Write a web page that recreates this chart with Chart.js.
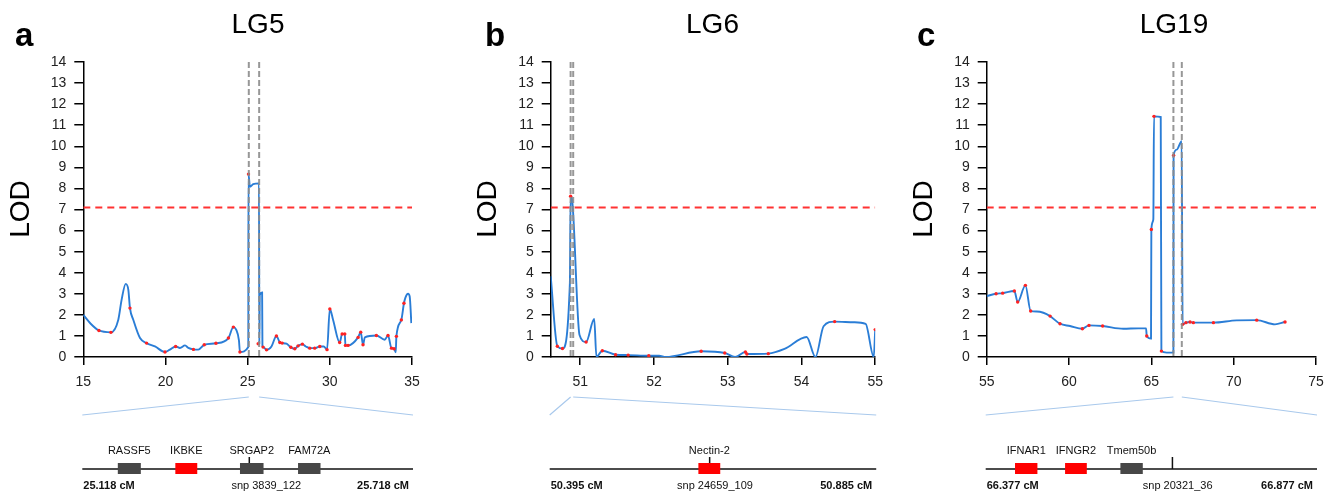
<!DOCTYPE html>
<html>
<head>
<meta charset="utf-8">
<script src="https://cdn.jsdelivr.net/npm/chart.js@4.4.0/dist/chart.umd.min.js"></script>
<style>
body { margin: 0; background: #fff; }
#wrap { position: relative; width: 1338px; height: 496px; }
#wrap canvas { position: absolute; top: 0; }
</style>
</head>
<body>
<div id="wrap">
  <canvas id="lg5" width="446" height="496" style="left:0px"></canvas>
  <canvas id="lg6" width="446" height="496" style="left:446px"></canvas>
  <canvas id="lg19" width="446" height="496" style="left:892px"></canvas>
</div>
<script>
// ---- data ----
var threshold = 7.1;
var yTicks = [0, 1, 2, 3, 4, 5, 6, 7, 8, 9, 10, 11, 12, 13, 14];

// LG5
var lg5Ticks = [15, 20, 25, 30, 35];
var lg5Pos = [15.0, 15.45, 15.95, 16.68, 17.13, 17.33, 17.58, 17.74, 17.84, 18.04, 18.45, 18.85, 19.36, 19.97, 20.27, 20.62, 20.88, 21.19, 21.39, 21.7, 22.0, 22.36, 23.07, 23.83, 24.13, 24.3, 24.47, 24.53, 25.04, 25.05, 25.14, 25.34, 25.69, 25.71, 25.74, 25.88, 25.9, 25.94, 26.15, 26.45, 26.75, 26.96, 27.1, 27.36, 27.63, 27.87, 28.07, 28.33, 28.54, 28.78, 29.08, 29.39, 29.63, 29.83, 30.0, 30.2, 30.6, 30.75, 30.91, 30.95, 31.11, 31.72, 31.88, 32.02, 32.13, 32.83, 33.34, 33.54, 33.75, 33.91, 34.01, 34.05, 34.35, 34.51, 34.6, 34.76, 34.86, 34.96];
var lg5Lod = [2.0, 1.58, 1.26, 1.17, 1.77, 2.71, 3.47, 3.19, 2.32, 1.77, 0.9, 0.66, 0.5, 0.24, 0.35, 0.5, 0.43, 0.55, 0.43, 0.36, 0.35, 0.58, 0.65, 0.9, 1.42, 1.3, 0.79, 0.24, 0.47, 8.68, 8.08, 8.2, 8.24, 0.6, 2.95, 3.06, 0.5, 0.47, 0.34, 0.5, 1.0, 0.69, 0.66, 0.63, 0.46, 0.39, 0.53, 0.61, 0.5, 0.42, 0.42, 0.5, 0.5, 0.35, 2.28, 1.76, 0.69, 1.09, 1.09, 0.55, 0.55, 0.93, 1.18, 0.58, 0.93, 1.02, 0.82, 1.02, 0.42, 0.39, 0.22, 0.98, 1.76, 2.55, 2.82, 3.0, 2.87, 1.61];
var lg5MarkPos = [15.95, 16.68, 17.84, 18.85, 19.97, 20.62, 21.7, 22.36, 23.07, 23.83, 24.13, 24.53, 25.05, 25.64, 25.94, 26.15, 26.75, 26.96, 27.1, 27.63, 27.87, 28.07, 28.33, 28.78, 29.08, 29.39, 29.83, 30.0, 30.6, 30.75, 30.91, 30.95, 31.11, 31.72, 31.88, 32.02, 32.83, 33.54, 33.75, 33.91, 34.05, 34.35, 34.51];
var lg5MarkLod = [1.26, 1.17, 2.32, 0.66, 0.24, 0.5, 0.36, 0.58, 0.65, 0.9, 1.42, 0.24, 8.68, 0.63, 0.47, 0.34, 1.0, 0.69, 0.66, 0.46, 0.39, 0.53, 0.61, 0.42, 0.42, 0.5, 0.35, 2.28, 0.69, 1.09, 1.09, 0.55, 0.55, 0.93, 1.18, 0.58, 1.02, 1.02, 0.42, 0.39, 0.98, 1.76, 2.55];
var lg5Qtl = [25.07, 25.7];
var lg5Genes = ["RASSF5", "IKBKE", "SRGAP2", "FAM72A"];
var lg5GeneStart = [25.181, 25.286, 25.404, 25.510];
var lg5GeneEnd = [25.223, 25.326, 25.447, 25.551];
var lg5GeneCandidate = [false, true, false, false];

// LG6
var lg6Ticks = [51, 52, 53, 54, 55];
var lg6Pos = [50.6, 50.69, 50.76, 50.86, 50.87, 50.89, 50.99, 51.08, 51.19, 51.22, 51.3, 51.48, 51.65, 51.93, 52.07, 52.16, 52.64, 52.96, 53.1, 53.24, 53.26, 53.55, 53.77, 54.07, 54.19, 54.3, 54.45, 54.71, 54.87, 54.98, 55.0];
var lg6Lod = [3.83, 0.51, 0.4, 3.5, 7.63, 7.47, 1.06, 0.71, 1.8, 0.0, 0.3, 0.11, 0.09, 0.06, 0.06, 0.0, 0.27, 0.19, 0.0, 0.24, 0.14, 0.16, 0.38, 0.95, 0.0, 1.46, 1.68, 1.65, 1.57, 0.0, 1.3];
var lg6MarkPos = [50.69, 50.76, 50.87, 51.08, 51.3, 51.48, 51.65, 51.93, 52.64, 52.96, 53.24, 53.26, 53.55, 54.45, 55.0];
var lg6MarkLod = [0.51, 0.4, 7.63, 0.71, 0.3, 0.11, 0.09, 0.06, 0.27, 0.19, 0.24, 0.14, 0.16, 1.68, 1.3];
var lg6Qtl = [50.87, 50.905];
var lg6Genes = ["Nectin-2"];
var lg6GeneStart = [50.618];
var lg6GeneEnd = [50.651];
var lg6GeneCandidate = [true];

// LG19
var lg19Ticks = [55, 60, 65, 70, 75];
var lg19Pos = [55.0, 55.57, 55.97, 56.68, 56.88, 57.35, 57.67, 58.04, 58.44, 58.85, 59.45, 60.06, 60.81, 61.21, 62.04, 63.3, 64.21, 64.68, 64.72, 64.98, 65.0, 65.12, 65.16, 65.57, 65.61, 65.93, 66.34, 66.35, 66.54, 66.84, 66.9, 67.1, 67.35, 67.55, 68.77, 70.18, 71.4, 72.51, 73.12];
var lg19Lod = [2.89, 3.0, 3.03, 3.13, 2.61, 3.4, 2.18, 2.16, 2.1, 1.94, 1.58, 1.47, 1.34, 1.5, 1.47, 1.34, 1.36, 1.36, 1.0, 0.87, 6.05, 6.53, 11.42, 11.39, 0.28, 0.21, 0.21, 9.57, 9.84, 10.24, 1.55, 1.63, 1.66, 1.63, 1.63, 1.74, 1.75, 1.55, 1.66];
var lg19MarkPos = [55.57, 55.97, 56.68, 56.88, 57.35, 57.67, 58.85, 59.45, 60.81, 61.21, 62.04, 64.72, 65.0, 65.16, 65.61, 66.35, 66.9, 67.1, 67.35, 67.55, 68.77, 71.4, 73.12];
var lg19MarkLod = [3.0, 3.03, 3.13, 2.61, 3.4, 2.18, 1.94, 1.58, 1.34, 1.5, 1.47, 1.0, 6.05, 11.42, 0.28, 9.57, 1.55, 1.63, 1.66, 1.63, 1.63, 1.75, 1.66];
var lg19Qtl = [66.34, 66.85];
var lg19Genes = ["IFNAR1", "IFNGR2", "Tmem50b"];
var lg19GeneStart = [66.420, 66.496, 66.580];
var lg19GeneEnd = [66.454, 66.529, 66.614];
var lg19GeneCandidate = [true, true, false];

var FONT = '"Liberation Sans", Arial, sans-serif';
var BLUE = '#2a7dd6';

function zip(xs, ys) {
  return xs.map(function (x, i) { return { x: x, y: ys[i] }; });
}

function decor(p) {
  return {
    id: 'decor',
    afterDatasetsDraw: function (chart) {
      var ctx = chart.ctx, ca = chart.chartArea, sx = chart.scales.x;
      ctx.save();
      ctx.strokeStyle = 'rgba(140,140,140,0.9)';
      ctx.lineWidth = 2;
      ctx.setLineDash([6, 3]);
      p.qtl.forEach(function (v) {
        var px = sx.getPixelForValue(v);
        ctx.beginPath();
        ctx.moveTo(px, ca.top);
        ctx.lineTo(px, ca.bottom);
        ctx.stroke();
      });
      ctx.restore();
    },
    afterDraw: function (chart) {
      var ctx = chart.ctx, ca = chart.chartArea, sx = chart.scales.x;
      ctx.save();
      // titles and labels
      ctx.fillStyle = '#000';
      ctx.font = 'bold 33px ' + FONT;
      ctx.textAlign = 'left';
      ctx.textBaseline = 'alphabetic';
      ctx.fillText(p.letter, p.letterX, 46);
      ctx.font = '28px ' + FONT;
      ctx.textAlign = 'center';
      ctx.fillText(p.title, p.titleX, 33);
      ctx.save();
      ctx.translate(p.lodX, 209);
      ctx.rotate(-Math.PI / 2);
      ctx.textBaseline = 'middle';
      ctx.fillText('LOD', 0, 0);
      ctx.restore();

      // zoom lines
      var trackPx = function (v) {
        return ca.left + (v - p.trackMin) / (p.trackMax - p.trackMin) * (ca.right - ca.left);
      };
      ctx.strokeStyle = '#a9c9ec';
      ctx.lineWidth = 1.2;
      ctx.beginPath();
      ctx.moveTo(ca.left - 1, 415);
      ctx.lineTo(sx.getPixelForValue(p.qtl[0]), 397);
      ctx.moveTo(sx.getPixelForValue(p.qtl[1]), 397);
      ctx.lineTo(ca.right + 1, 415);
      ctx.stroke();

      // track
      var yLine = 469;
      ctx.strokeStyle = '#111';
      ctx.lineWidth = 1.5;
      ctx.beginPath();
      ctx.moveTo(ca.left - 1, yLine);
      ctx.lineTo(ca.right + 1, yLine);
      ctx.stroke();
      var snpX = trackPx(p.snp);
      ctx.beginPath();
      ctx.moveTo(snpX, 457);
      ctx.lineTo(snpX, yLine);
      ctx.stroke();
      ctx.font = '11px ' + FONT;
      ctx.textAlign = 'center';
      ctx.textBaseline = 'middle';
      p.genes.forEach(function (name, i) {
        var x0 = trackPx(p.geneStart[i]), x1 = trackPx(p.geneEnd[i]);
        ctx.fillStyle = p.geneCandidate[i] ? '#ff0000' : '#474747';
        ctx.fillRect(x0, 463, x1 - x0, 11);
        ctx.fillStyle = '#111';
        ctx.fillText(name, (x0 + x1) / 2, 451);
      });
      ctx.fillText(p.snpLabel, trackPx(p.snpLabelAt), 486);
      ctx.font = 'bold 11px ' + FONT;
      ctx.textAlign = 'left';
      ctx.fillText(p.trackMin.toFixed(3) + ' cM', ca.left, 486);
      ctx.textAlign = 'right';
      ctx.fillText(p.trackMax.toFixed(3) + ' cM', ca.right - 3, 486);
      ctx.restore();
    }
  };
}

function buildPanel(id, p) {
  var tickFont = { size: 14, family: FONT };
  return new Chart(document.getElementById(id), {
    type: 'line',
    data: {
      datasets: [
        { data: zip(p.markPos, p.markLod), type: 'scatter', showLine: false, pointRadius: 1.7, pointBorderWidth: 0, pointBackgroundColor: '#ff2222', order: 0 },
        { data: zip(p.pos, p.lod), borderColor: BLUE, borderWidth: 1.9, pointRadius: 0, cubicInterpolationMode: 'monotone', fill: false, order: 1 },
        { data: [{ x: p.xMin, y: threshold }, { x: p.xMax, y: threshold }], borderColor: '#ff3333', borderWidth: 2, borderDash: [7, 5], pointRadius: 0, fill: false, order: 2 }
      ]
    },
    options: {
      responsive: false,
      animation: false,
      events: [],
      layout: { padding: { left: p.padL, right: p.padR, top: 62, bottom: 109 } },
      plugins: { legend: { display: false }, tooltip: { enabled: false } },
      scales: {
        x: {
          type: 'linear', min: p.xMin, max: p.xMax,
          afterBuildTicks: function (s) { s.ticks = p.xTicks.map(function (v) { return { value: v }; }); },
          afterFit: function (s) { s.height = 30; },
          grid: { display: true, drawOnChartArea: false, drawTicks: true, tickLength: 8, color: '#000', lineWidth: 1.5 },
          border: { display: true, color: '#000', width: 1.5 },
          ticks: { font: tickFont, color: '#222', padding: 9, maxRotation: 0 }
        },
        y: {
          min: 0, max: 14,
          afterBuildTicks: function (s) { s.ticks = yTicks.map(function (v) { return { value: v }; }); },
          afterFit: function (s) { s.width = 50; },
          grid: { display: true, drawOnChartArea: false, drawTicks: true, tickLength: 9, color: '#000', lineWidth: 1.5 },
          border: { display: true, color: '#000', width: 1.5 },
          ticks: { font: tickFont, color: '#222', padding: 8 }
        }
      }
    },
    plugins: [decor(p)]
  });
}

buildPanel('lg5', {
  pos: lg5Pos, lod: lg5Lod, markPos: lg5MarkPos, markLod: lg5MarkLod, xTicks: lg5Ticks,
  xMin: 15, xMax: 35, qtl: lg5Qtl, padL: 33.3, padR: 34,
  letter: 'a', letterX: 15, title: 'LG5', titleX: 258, lodX: 21,
  trackMin: 25.118, trackMax: 25.718, genes: lg5Genes, geneStart: lg5GeneStart, geneEnd: lg5GeneEnd,
  geneCandidate: lg5GeneCandidate, snp: 25.421, snpLabel: 'snp 3839_122', snpLabelAt: 25.452
});
buildPanel('lg6', {
  pos: lg6Pos, lod: lg6Lod, markPos: lg6MarkPos, markLod: lg6MarkLod, xTicks: lg6Ticks,
  xMin: 50.6, xMax: 55, qtl: lg6Qtl, padL: 54.7, padR: 14.3,
  letter: 'b', letterX: 39, title: 'LG6', titleX: 266.5, lodX: 42,
  trackMin: 50.395, trackMax: 50.885, genes: lg6Genes, geneStart: lg6GeneStart, geneEnd: lg6GeneEnd,
  geneCandidate: lg6GeneCandidate, snp: 50.635, snpLabel: 'snp 24659_109', snpLabelAt: 50.643
});
buildPanel('lg19', {
  pos: lg19Pos, lod: lg19Lod, markPos: lg19MarkPos, markLod: lg19MarkLod, xTicks: lg19Ticks,
  xMin: 55, xMax: 75, qtl: lg19Qtl, padL: 44.7, padR: 22,
  letter: 'c', letterX: 25, title: 'LG19', titleX: 282, lodX: 32,
  trackMin: 66.377, trackMax: 66.877, genes: lg19Genes, geneStart: lg19GeneStart, geneEnd: lg19GeneEnd,
  geneCandidate: lg19GeneCandidate, snp: 66.659, snpLabel: 'snp 20321_36', snpLabelAt: 66.667
});
</script>
</body>
</html>
